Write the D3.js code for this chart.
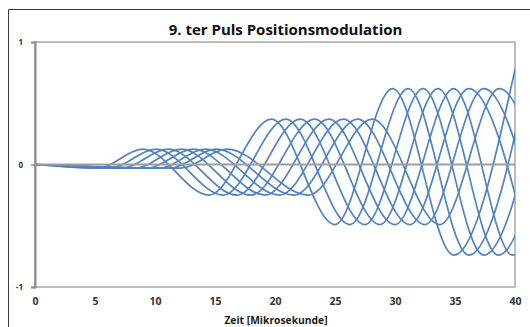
<!DOCTYPE html>
<html>
<head>
<meta charset="utf-8">
<script src="https://cdn.jsdelivr.net/npm/d3@7"></script>
<style>
  body { margin: 0; background: #fff; }
  text { font-family: "Open Sans", Lato, sans-serif; font-weight: bold; }
</style>
</head>
<body>
<script>
// Achsen
var xTicks = [0, 5, 10, 15, 20, 25, 30, 35, 40];
var yTicks = [-1, 0, 1];

// Extrema der acht Kurven als [Zeit, Wert]
var kurve1 = [[0,0],[5.2,-0.03],[9.0,0.125],[14.5,-0.25],[19.7,0.37],[25.0,-0.49],[29.8,0.62],[34.9,-0.74],[40.1,0.82]];
var kurve2 = [[0,0],[6.2,-0.03],[10.1,0.125],[15.7,-0.25],[20.9,0.37],[26.25,-0.49],[31.1,0.62],[36.15,-0.74],[41.4,0.86]];
var kurve3 = [[0,0],[7.2,-0.03],[11.1,0.125],[16.85,-0.25],[22.1,0.37],[27.5,-0.49],[32.35,0.62],[37.4,-0.74],[42.7,0.86]];
var kurve4 = [[0,0],[8.3,-0.03],[12.2,0.125],[18.0,-0.25],[23.3,0.37],[28.75,-0.49],[33.6,0.62],[38.6,-0.74],[43.9,0.86]];
var kurve5 = [[0,0],[9.3,-0.03],[13.2,0.125],[19.2,-0.25],[24.5,0.37],[30.0,-0.49],[34.9,0.62],[39.8,-0.74],[45.1,0.86]];
var kurve6 = [[0,0],[10.3,-0.03],[14.2,0.125],[20.4,-0.25],[25.7,0.37],[31.25,-0.49],[36.15,0.62],[41.3,-0.74]];
var kurve7 = [[0,0],[11.2,-0.03],[15.1,0.125],[21.6,-0.25],[26.9,0.37],[32.5,-0.49],[37.4,0.62],[42.5,-0.74]];
var kurve8 = [[0,0],[12.1,-0.03],[16.0,0.125],[22.8,-0.25],[28.1,0.37],[33.75,-0.49],[38.7,0.62],[43.7,-0.74]];

var kurven = [kurve1, kurve2, kurve3, kurve4, kurve5, kurve6, kurve7, kurve8];

var width = 530, height = 327;
var plotLeft = 35, plotRight = 515, plotTop = 42, plotBottom = 287;

var svg = d3.select("body").append("svg")
    .attr("width", width)
    .attr("height", height);

// Rahmen des Diagrammbereichs
svg.append("path")
    .attr("d", "M8.5," + height + "V9.5H" + width)
    .attr("fill", "none")
    .attr("stroke", "#3a3a3a")
    .attr("stroke-width", 1);

var x = d3.scaleLinear().domain([0, 40]).range([plotLeft, plotRight]);
var y = d3.scaleLinear().domain([-1, 1]).range([plotBottom, plotTop]);

svg.append("clipPath").attr("id", "clip")
    .append("rect")
    .attr("x", plotLeft).attr("y", plotTop)
    .attr("width", plotRight - plotLeft).attr("height", plotBottom - plotTop);

// Zeichnungsfläche
svg.append("rect")
    .attr("x", plotLeft).attr("y", plotTop)
    .attr("width", plotRight - plotLeft).attr("height", plotBottom - plotTop)
    .attr("fill", "#fff")
    .attr("stroke", "#a8a8a8")
    .attr("stroke-width", 1.5);

var line = d3.line()
    .x(d => x(d[0]))
    .y(d => y(d[1]))
    .curve(d3.curveMonotoneX);

svg.append("g")
    .attr("clip-path", "url(#clip)")
    .selectAll("path")
    .data(kurven)
    .join("path")
    .attr("d", line)
    .attr("fill", "none")
    .attr("stroke", "#5282c0")
    .attr("stroke-width", 1.7);

// Nulllinie
svg.append("line")
    .attr("x1", plotLeft).attr("x2", plotRight)
    .attr("y1", y(0)).attr("y2", y(0))
    .attr("stroke", "#a09c9c")
    .attr("stroke-width", 2);

// y-Achse
var yAxis = svg.append("g")
    .attr("transform", "translate(" + plotLeft + ",0)")
    .call(d3.axisLeft(y).tickValues(yTicks).tickSize(4).tickPadding(8).tickFormat(d => String(d)));
yAxis.select(".domain").attr("stroke", "#8c8c8c").attr("stroke-width", 2);
yAxis.selectAll(".tick line").attr("stroke", "#8c8c8c").attr("stroke-width", 1.5);
yAxis.selectAll("text")
    .style("font-size", "8px")
    .attr("fill", "#333");

// x-Achse (Beschriftung unten)
var xAxis = svg.append("g")
    .attr("transform", "translate(0," + plotBottom + ")")
    .call(d3.axisBottom(x).tickValues(xTicks).tickSize(0).tickPadding(11));
xAxis.select(".domain").remove();
xAxis.selectAll("text")
    .style("font-size", "10.5px")
    .attr("fill", "#333");

// Titel
svg.append("text")
    .attr("x", 285.5)
    .attr("y", 35)
    .attr("text-anchor", "middle")
    .style("font-size", "15px")
    .attr("fill", "#111")
    .text("9. ter Puls Positionsmodulation");

// Achsentitel
svg.append("text")
    .attr("x", 276)
    .attr("y", 324)
    .attr("text-anchor", "middle")
    .style("font-size", "10.3px")
    .attr("fill", "#222")
    .text("Zeit [Mikrosekunde]");
</script>
</body>
</html>
